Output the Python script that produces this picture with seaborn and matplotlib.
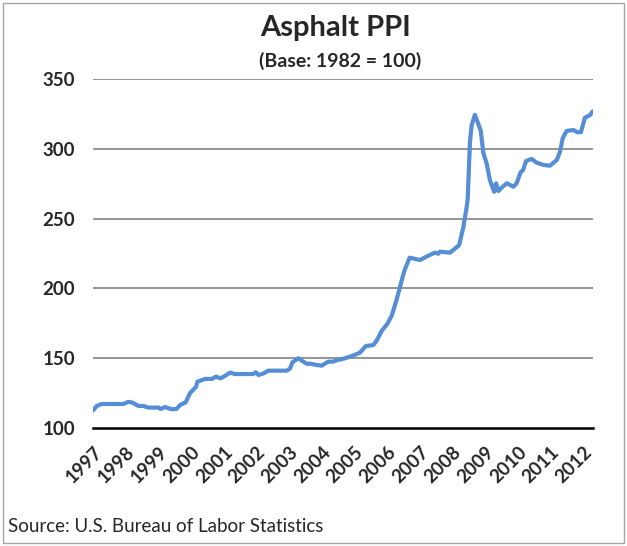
import matplotlib
matplotlib.use("Agg")
import matplotlib.pyplot as plt
import seaborn as sns
import pandas as pd
from matplotlib.patches import Rectangle

# ---- data ----
years = [1997.0, 1997.1, 1997.26, 1997.92, 1998.07, 1998.2, 1998.38, 1998.53, 1998.69,
         1999.0, 1999.06, 1999.2, 1999.4, 1999.55, 1999.66, 1999.83, 1999.96,
         2000.15, 2000.19, 2000.42, 2000.63, 2000.76, 2000.9, 2001.03, 2001.19,
         2001.34, 2001.9, 2001.98, 2002.06, 2002.21, 2002.36, 2002.93, 2003.03,
         2003.1, 2003.28, 2003.43, 2003.56, 2003.64, 2003.79, 2004.0, 2004.1,
         2004.2, 2004.35, 2004.48, 2004.61, 2004.86, 2005.17, 2005.35, 2005.58,
         2005.68, 2005.84, 2006.0, 2006.14, 2006.29, 2006.42, 2006.52, 2006.69,
         2007.01, 2007.26, 2007.47, 2007.57, 2007.62, 2007.93, 2008.03, 2008.21,
         2008.34, 2008.44, 2008.47, 2008.54, 2008.59, 2008.69, 2008.79, 2008.87,
         2008.95, 2009.05, 2009.15, 2009.28, 2009.34, 2009.41, 2009.51, 2009.67,
         2009.87, 2009.97, 2010.09, 2010.17, 2010.26, 2010.43, 2010.58, 2010.79,
         2010.99, 2011.2, 2011.3, 2011.38, 2011.5, 2011.71, 2011.83, 2011.94,
         2012.06, 2012.13, 2012.22, 2012.3]
ppi = [112.5, 115.5, 117.0, 117.0, 118.5, 118.0, 115.6, 115.6, 114.4,
       114.4, 113.4, 114.8, 113.2, 113.4, 116.3, 118.2, 124.7,
       129.4, 133.0, 135.0, 135.0, 136.6, 135.4, 137.1, 139.5,
       138.5, 138.5, 139.8, 137.8, 138.9, 140.9, 140.9, 142.6,
       146.9, 149.8, 147.4, 145.7, 146.0, 145.2, 144.5, 146.0,
       147.4, 147.4, 148.6, 149.1, 150.9, 153.8, 158.6, 159.3,
       162.4, 169.6, 174.2, 180.2, 191.6, 203.1, 211.9, 222.0,
       220.3, 223.4, 225.6, 224.8, 226.3, 225.6, 227.5, 231.1,
       244.2, 258.6, 264.0, 305.0, 317.0, 324.4, 318.4, 313.0,
       297.0, 289.7, 277.7, 269.3, 275.4, 269.8, 272.2, 275.4,
       272.9, 275.4, 283.3, 285.0, 291.4, 292.8, 290.2, 288.5,
       288.0, 292.1, 298.0, 307.7, 312.9, 313.6, 312.0, 312.0,
       322.4, 323.2, 324.4, 327.0]
tick_years = list(range(1997, 2013))
tick_labels = [str(y) for y in tick_years]
y_ticks = [100, 150, 200, 250, 300, 350]

title = "Asphalt PPI"
subtitle = "(Base: 1982 = 100)"
source = "Source: U.S. Bureau of Labor Statistics"

df = pd.DataFrame({"year": years, "ppi": ppi})

sns.set_style("white")
plt.rcParams["font.family"] = ["Lato", "DejaVu Sans"]

fig = plt.figure(figsize=(6.27, 5.46), dpi=100)
ax = fig.add_axes([0.1488, 0.2167, 0.9453 - 0.1488, 0.8548 - 0.2167])

sns.lineplot(data=df, x="year", y="ppi", ax=ax, color="#558ed5",
             linewidth=3.0, solid_capstyle="round", solid_joinstyle="round")

ax.set_xlim(1997, 2012.3)
ax.set_ylim(100, 350)
ax.set_yticks(y_ticks)
ax.set_yticklabels([str(v) for v in y_ticks], fontsize=13.5, fontweight="bold")
ax.set_xticks(tick_years)
ax.set_xticklabels(tick_labels, fontsize=13.5, fontweight="bold",
                   rotation=45, ha="right", va="top", rotation_mode="anchor")
ax.set_xlabel("")
ax.set_ylabel("")

for v in y_ticks[1:]:
    ax.axhline(v, color="#8c8c8c", linewidth=1.3, zorder=0)

for s in ["top", "right", "left"]:
    ax.spines[s].set_visible(False)
ax.spines["bottom"].set_color("black")
ax.spines["bottom"].set_linewidth(1.8)
ax.tick_params(axis="x", direction="out", length=5, width=1.5, color="black", pad=6)
ax.tick_params(axis="y", length=0, pad=13)
ax.grid(False)

fig.text(0.535, 0.948, title, ha="center", va="center", fontsize=21, fontweight="bold")
fig.text(0.543, 0.889, subtitle, ha="center", va="center", fontsize=14, fontweight="bold")
fig.text(0.013, 0.035, source, ha="left", va="center", fontsize=13.5)

fig.add_artist(Rectangle((0.004, 0.006), 0.992, 0.988, transform=fig.transFigure,
                         fill=False, edgecolor="#a6a6a6", linewidth=1.0))

fig.savefig("out.png", dpi=100)
